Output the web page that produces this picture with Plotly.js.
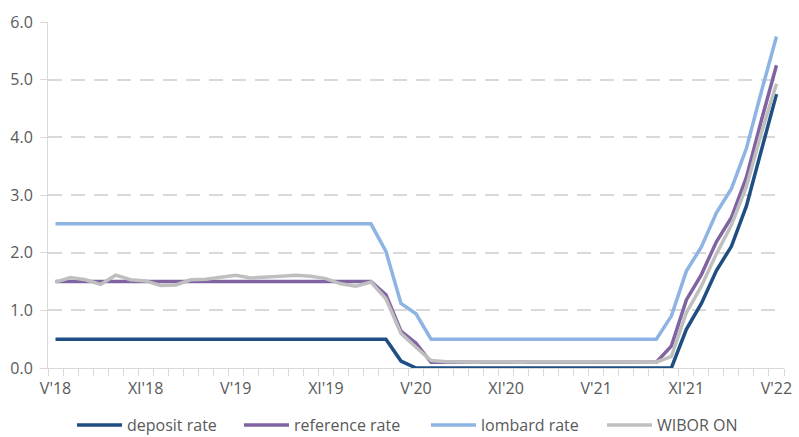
<!DOCTYPE html>
<html>
<head>
<meta charset="utf-8">
<script src="https://cdn.plot.ly/plotly-3.0.1.min.js"></script>
<style>html,body{margin:0;padding:0;background:#fff;}#chart{width:799px;height:437px;}</style>
</head>
<body>
<div id="chart"></div>
<script>
// Monthly data, May 2018 (V'18) to May 2022 (V'22)
const months = [
  "V'18","VI'18","VII'18","VIII'18","IX'18","X'18","XI'18","XII'18",
  "I'19","II'19","III'19","IV'19","V'19","VI'19","VII'19","VIII'19","IX'19","X'19","XI'19","XII'19",
  "I'20","II'20","III'20","IV'20","V'20","VI'20","VII'20","VIII'20","IX'20","X'20","XI'20","XII'20",
  "I'21","II'21","III'21","IV'21","V'21","VI'21","VII'21","VIII'21","IX'21","X'21","XI'21","XII'21",
  "I'22","II'22","III'22","IV'22","V'22"
];
const tickLabels = ["V'18","XI'18","V'19","XI'19","V'20","XI'20","V'21","XI'21","V'22"];

const depositRate = [
  0.5,0.5,0.5,0.5,0.5,0.5,0.5,0.5,
  0.5,0.5,0.5,0.5,0.5,0.5,0.5,0.5,0.5,0.5,0.5,0.5,
  0.5,0.5,0.5,0.12,0,0,0,0,0,0,0,0,
  0,0,0,0,0,0,0,0,0,0,0.67,1.12,
  1.69,2.11,2.81,3.8,4.75
];
const referenceRate = [
  1.5,1.5,1.5,1.5,1.5,1.5,1.5,1.5,
  1.5,1.5,1.5,1.5,1.5,1.5,1.5,1.5,1.5,1.5,1.5,1.5,
  1.5,1.5,1.27,0.64,0.43,0.1,0.1,0.1,0.1,0.1,0.1,0.1,
  0.1,0.1,0.1,0.1,0.1,0.1,0.1,0.1,0.1,0.38,1.18,1.62,
  2.19,2.61,3.31,4.3,5.25
];
const lombardRate = [
  2.5,2.5,2.5,2.5,2.5,2.5,2.5,2.5,
  2.5,2.5,2.5,2.5,2.5,2.5,2.5,2.5,2.5,2.5,2.5,2.5,
  2.5,2.5,2.02,1.12,0.94,0.5,0.5,0.5,0.5,0.5,0.5,0.5,
  0.5,0.5,0.5,0.5,0.5,0.5,0.5,0.5,0.5,0.9,1.68,2.1,
  2.69,3.11,3.81,4.8,5.75
];
const wiborON = [
  1.49,1.57,1.53,1.45,1.61,1.53,1.51,1.43,
  1.44,1.53,1.54,1.57,1.61,1.56,1.57,1.59,1.61,1.59,1.55,1.46,
  1.42,1.49,1.2,0.6,0.36,0.13,0.11,0.1,0.1,0.11,0.1,0.1,
  0.11,0.11,0.1,0.1,0.1,0.1,0.1,0.1,0.1,0.2,0.96,1.42,
  1.98,2.48,3.15,4.08,4.93
];

const idx = months.map((m, i) => i);
const tickIdx = tickLabels.map(t => months.indexOf(t));

const series = [
  {name: "deposit rate", y: depositRate, color: "#1F4E82", legend: "legend", lx: 72},
  {name: "reference rate", y: referenceRate, color: "#8064A2", legend: "legend2", lx: 239},
  {name: "lombard rate", y: lombardRate, color: "#8DB4E2", legend: "legend3", lx: 426},
  {name: "WIBOR ON", y: wiborON, color: "#BFBFBF", legend: "legend4", lx: 602}
];

const traces = series.map(s => ({
  x: idx, y: s.y, name: s.name, type: "scatter", mode: "lines",
  line: {color: s.color, width: 3.5}, legend: s.legend,
  hoverinfo: "skip"
}));

const layout = {
  width: 799, height: 437,
  margin: {l: 48, r: 15, t: 22, b: 69},
  paper_bgcolor: "#fff", plot_bgcolor: "#fff",
  font: {family: "Open Sans, sans-serif", size: 16, color: "#595959"},
  showlegend: true,
  xaxis: {
    range: [-0.5, months.length - 0.5],
    tickmode: "array", tickvals: tickIdx, ticktext: tickLabels,
    ticks: "outside", ticklen: 6, tickcolor: "rgba(0,0,0,0)",
    showgrid: false, zeroline: false,
    showline: true, linecolor: "#D9D9D9", linewidth: 1,
    minor: {tickmode: "linear", tick0: -0.5, dtick: 1, ticks: "outside", ticklen: 7, tickcolor: "#D9D9D9", showgrid: false},
    tickfont: {size: 16, color: "#595959"}
  },
  yaxis: {
    range: [0, 6], dtick: 1, tickformat: ".1f",
    ticks: "outside", ticklen: 7, tickcolor: "#D9D9D9", ticklabelstandoff: 4,
    showgrid: true, gridcolor: "#D9D9D9", gridwidth: 2, griddash: "14px,9px",
    zeroline: false, showline: true, linecolor: "#D9D9D9", linewidth: 1,
    tickfont: {size: 16, color: "#595959"}
  }
};
series.forEach(s => {
  layout[s.legend] = {
    orientation: "h", xref: "container", yref: "container",
    x: s.lx / 799, xanchor: "left", y: 0.066, yanchor: "top",
    font: {size: 16, color: "#595959"}, itemwidth: 45,
    bgcolor: "rgba(0,0,0,0)"
  };
});

Plotly.newPlot("chart", traces, layout, {staticPlot: true, displayModeBar: false});
</script>
</body>
</html>
